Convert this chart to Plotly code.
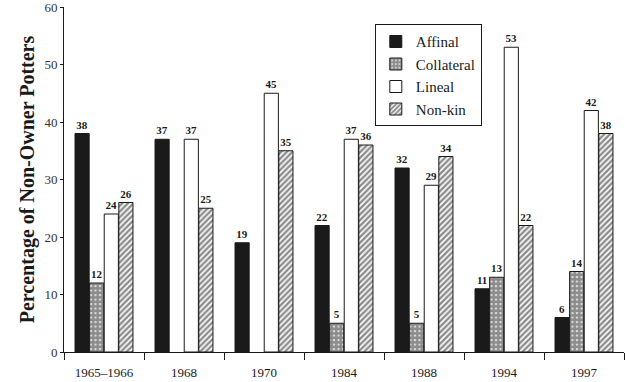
import plotly.graph_objects as go

years = ["1965–1966", "1968", "1970", "1984", "1988", "1994", "1997"]
affinal = [38, 37, 19, 22, 32, 11, 6]
collateral = [12, None, None, 5, 5, 13, 14]
lineal = [24, 37, 45, 37, 29, 53, 42]
nonkin = [26, 25, 35, 36, 34, 22, 38]
y_ticks = [0, 10, 20, 30, 40, 50, 60]

SERIF = "Liberation Serif"

def labels(vals):
    return ["" if v is None else str(v) for v in vals]

series = [
    ("Affinal", affinal, dict(color="#1a1a1a")),
    ("Collateral", collateral, dict(color="white", pattern=dict(shape=".", fgcolor="#1a1a1a", bgcolor="white", size=4.5, solidity=0.8))),
    ("Lineal", lineal, dict(color="white")),
    ("Non-kin", nonkin, dict(color="white", pattern=dict(shape="/", fgcolor="#1a1a1a", bgcolor="white", size=4, solidity=0.6))),
]

fig = go.Figure()
for name, vals, mk in series:
    mk = dict(mk)
    mk["line"] = dict(color="#1a1a1a", width=1)
    fig.add_trace(go.Bar(
        name=name, x=years, y=vals, marker=mk,
        text=labels(vals), textposition="outside",
        textfont=dict(family=SERIF, size=11, color="#1a1a1a", weight="bold"),
        cliponaxis=False,
    ))

fig.update_layout(
    width=625, height=382,
    margin=dict(l=64, r=1, t=7, b=30, autoexpand=False),
    plot_bgcolor="white", paper_bgcolor="white",
    barmode="group", bargap=0.27, bargroupgap=0.03,
    font=dict(family=SERIF, color="#1a1a1a"),
    showlegend=True,
    legend=dict(
        x=0.555, y=0.95, xanchor="left", yanchor="top",
        bordercolor="#1a1a1a", borderwidth=1, bgcolor="white",
        font=dict(family=SERIF, size=15, color="#1a1a1a"),
        itemwidth=30, tracegroupgap=0,
    ),
)
fig.update_xaxes(
    automargin=False,
    showline=True, linecolor="#1a1a1a", linewidth=1,
    ticks="outside", tickson="boundaries", ticklen=7, tickcolor="#1a1a1a",
    tickfont=dict(family=SERIF, size=13, color="#1a1a1a"),
    ticklabelstandoff=8,
    showgrid=False,
)
fig.update_yaxes(
    automargin=False,
    range=[0, 60], tickvals=y_ticks,
    showline=True, linecolor="#1a1a1a", linewidth=1,
    ticks="outside", ticklen=3, tickcolor="#1a1a1a",
    tickfont=dict(family=SERIF, size=13, color="#333333"),
    ticklabeloverflow="allow",
    showgrid=False, zeroline=False,
    title=dict(text="<b>Percentage of Non-Owner Potters</b>", font=dict(family=SERIF, size=20, color="#1a1a1a"), standoff=4),
)

fig.write_html("out.html", config={"displayModeBar": False},
               post_script="document.body.style.margin='0';document.body.style.overflow='hidden';")
